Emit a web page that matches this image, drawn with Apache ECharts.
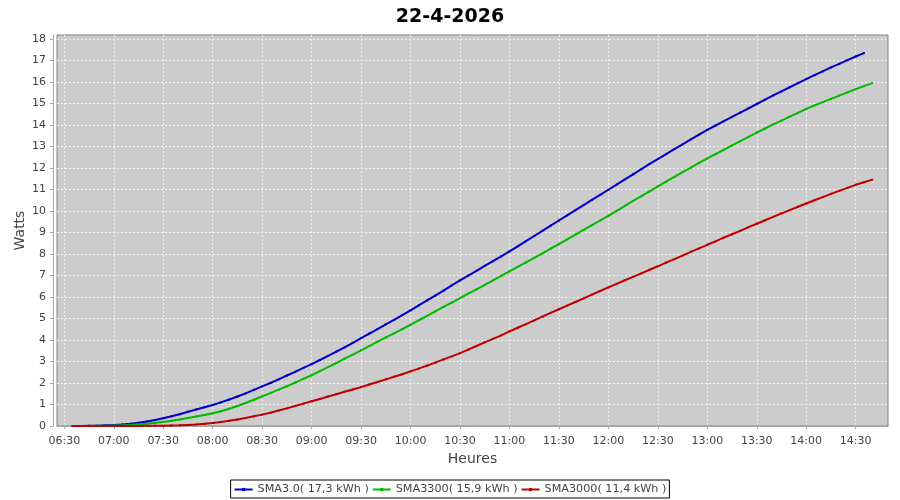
<!DOCTYPE html>
<html>
<head>
<meta charset="utf-8">
<script src="https://cdn.jsdelivr.net/npm/echarts@6/dist/echarts.min.js"></script>
<style>
html,body{margin:0;padding:0;background:#fff;}
#chart{width:900px;height:500px;}
</style>
</head>
<body>
<div id="chart"></div>
<script>
const title = '22-4-2026';
const seriesNames = ['SMA3.0( 17,3 kWh )', 'SMA3300( 15,9 kWh )', 'SMA3000( 11,4 kWh )'];
const xTickLabels = ['06:30','07:00','07:30','08:00','08:30','09:00','09:30','10:00','10:30','11:00','11:30','12:00','12:30','13:00','13:30','14:00','14:30'];
const yTickLabels = [0,1,2,3,4,5,6,7,8,9,10,11,12,13,14,15,16,17,18];

const times = ['06:35','06:40','06:45','06:50','06:55','07:00','07:05','07:10','07:15','07:20','07:25','07:30','07:35','07:40','07:45','07:50','07:55',
'08:00','08:05','08:10','08:15','08:20','08:25','08:30','08:35','08:40','08:45','08:50','08:55',
'09:00','09:05','09:10','09:15','09:20','09:25','09:30','09:35','09:40','09:45','09:50','09:55',
'10:00','10:05','10:10','10:15','10:20','10:25','10:30','10:35','10:40','10:45','10:50','10:55',
'11:00','11:05','11:10','11:15','11:20','11:25','11:30','11:35','11:40','11:45','11:50','11:55',
'12:00','12:05','12:10','12:15','12:20','12:25','12:30','12:35','12:40','12:45','12:50','12:55',
'13:00','13:05','13:10','13:15','13:20','13:25','13:30','13:35','13:40','13:45','13:50','13:55',
'14:00','14:05','14:10','14:15','14:20','14:25','14:30','14:35','14:40'];

const sma30 = [0.00,0.00,0.01,0.01,0.03,0.05,0.07,0.10,0.15,0.21,0.28,0.36,0.45,0.55,0.66,0.77,0.87,
0.98,1.10,1.23,1.37,1.52,1.68,1.84,2.00,2.17,2.35,2.52,2.70,
2.88,3.07,3.26,3.46,3.66,3.87,4.09,4.30,4.51,4.73,4.94,5.16,
5.38,5.61,5.84,6.07,6.30,6.54,6.77,7.00,7.22,7.45,7.67,7.89,
8.12,8.36,8.60,8.84,9.08,9.32,9.56,9.80,10.04,10.28,10.52,10.75,
10.99,11.23,11.47,11.71,11.95,12.19,12.42,12.65,12.88,13.10,13.33,13.56,
13.78,13.98,14.18,14.38,14.58,14.78,14.98,15.18,15.38,15.57,15.76,15.95,
16.14,16.32,16.50,16.68,16.85,17.02,17.19,17.35];

const sma3300 = [0.00,0.00,0.00,0.01,0.01,0.02,0.03,0.05,0.08,0.11,0.15,0.19,0.24,0.30,0.37,0.44,0.51,
0.59,0.69,0.80,0.93,1.07,1.22,1.38,1.53,1.69,1.85,2.02,2.19,
2.36,2.55,2.74,2.93,3.13,3.32,3.52,3.72,3.92,4.12,4.31,4.51,
4.71,4.92,5.12,5.33,5.54,5.74,5.95,6.16,6.36,6.57,6.78,6.98,
7.19,7.40,7.61,7.82,8.03,8.25,8.46,8.68,8.90,9.12,9.34,9.56,
9.78,10.01,10.24,10.47,10.69,10.92,11.15,11.37,11.59,11.81,12.02,12.24,
12.45,12.65,12.85,13.05,13.25,13.45,13.65,13.84,14.03,14.21,14.39,14.57,
14.75,14.91,15.07,15.22,15.37,15.52,15.67,15.81,15.95];

const sma3000 = [0.00,0.00,0.00,0.00,0.00,0.00,0.00,0.00,0.00,0.01,0.01,0.01,0.02,0.03,0.05,0.07,0.10,
0.14,0.19,0.24,0.30,0.37,0.45,0.53,0.62,0.72,0.82,0.93,1.04,
1.15,1.26,1.37,1.48,1.59,1.70,1.81,1.93,2.05,2.17,2.29,2.41,
2.54,2.67,2.81,2.95,3.10,3.24,3.39,3.55,3.72,3.89,4.05,4.22,
4.40,4.57,4.74,4.91,5.09,5.26,5.43,5.60,5.77,5.94,6.11,6.28,
6.45,6.61,6.78,6.94,7.10,7.27,7.43,7.60,7.76,7.93,8.10,8.26,
8.43,8.59,8.76,8.92,9.08,9.25,9.41,9.57,9.73,9.89,10.04,10.20,
10.35,10.50,10.65,10.80,10.94,11.08,11.22,11.34,11.46];

const colors = ['#0000c8', '#00bb00', '#c00000'];

function toMin(s){ const p = s.split(':'); return (+p[0])*60 + (+p[1]); }
function pairs(vals){ return vals.map((v,i)=>[toMin(times[i]), v]); }
function fmt(m){ const h=Math.floor(m/60), mm=Math.round(m%60); return (h<10?'0':'')+h+':'+(mm<10?'0':'')+mm; }

const xTicks = xTickLabels.map(toMin);
const font = 'DejaVu Sans';

const chart = echarts.init(document.getElementById('chart'), null, {renderer:'canvas'});
const mkSeries = (name, vals, color) => ({
  name: name, type: 'line', data: pairs(vals),
  symbol: 'rect', symbolSize: 2, showAllSymbol: true,
  lineStyle: {width: 2, color: color}, itemStyle: {color: color},
  emphasis: {disabled: true}, animation: false
});

chart.setOption({
  animation: false,
  backgroundColor: '#ffffff',
  title: {text: title, left: 'center', top: 3,
    textStyle: {fontFamily: font, fontSize: 19, fontWeight: 'bold', color: '#000'}},
  grid: {left: 57, right: 12, top: 35, bottom: 74, show: true,
    backgroundColor: '#cccccc', borderColor: '#808080', borderWidth: 1},
  legend: {bottom: 2, left: 'center', data: seriesNames,
    borderColor: '#000', borderWidth: 1, padding: [4, 3, 3, 3], itemGap: 3,
    itemWidth: 18, itemHeight: 4,
    textStyle: {fontFamily: font, fontSize: 11.2, color: '#444'}},
  xAxis: {type: 'value', min: 385.57, max: 889.6, offset: 4,
    name: 'Heures', nameLocation: 'middle', nameGap: 22, nameMoveOverlap: false,
    nameTextStyle: {fontFamily: font, fontSize: 14, color: '#444'},
    axisLine: {show: true, lineStyle: {color: '#a8a8a8'}},
    axisTick: {show: true, length: 3, customValues: xTicks, lineStyle: {color: '#a8a8a8'}},
    axisLabel: {customValues: xTicks, margin: 6, formatter: v => fmt(v),
      fontFamily: font, fontSize: 11, color: '#444'},
    splitLine: {show: true, lineStyle: {color: '#f0f0f0', type: [2, 2], width: 1}}},
  yAxis: {type: 'value', min: 0, max: 18.19, offset: 4,
    name: 'Watts', nameLocation: 'middle', nameGap: 26, nameRotate: 90, nameMoveOverlap: false,
    nameTextStyle: {fontFamily: font, fontSize: 14, color: '#444'},
    axisLine: {show: true, lineStyle: {color: '#a8a8a8'}},
    axisTick: {show: true, length: 3, customValues: yTickLabels, lineStyle: {color: '#a8a8a8'}},
    axisLabel: {customValues: yTickLabels, margin: 7, fontFamily: font, fontSize: 11, color: '#444'},
    splitLine: {show: true, lineStyle: {color: '#f0f0f0', type: [2, 2], width: 1}}},
  series: [
    mkSeries(seriesNames[0], sma30, colors[0]),
    mkSeries(seriesNames[1], sma3300, colors[1]),
    mkSeries(seriesNames[2], sma3000, colors[2])
  ]
});
</script>
</body>
</html>
